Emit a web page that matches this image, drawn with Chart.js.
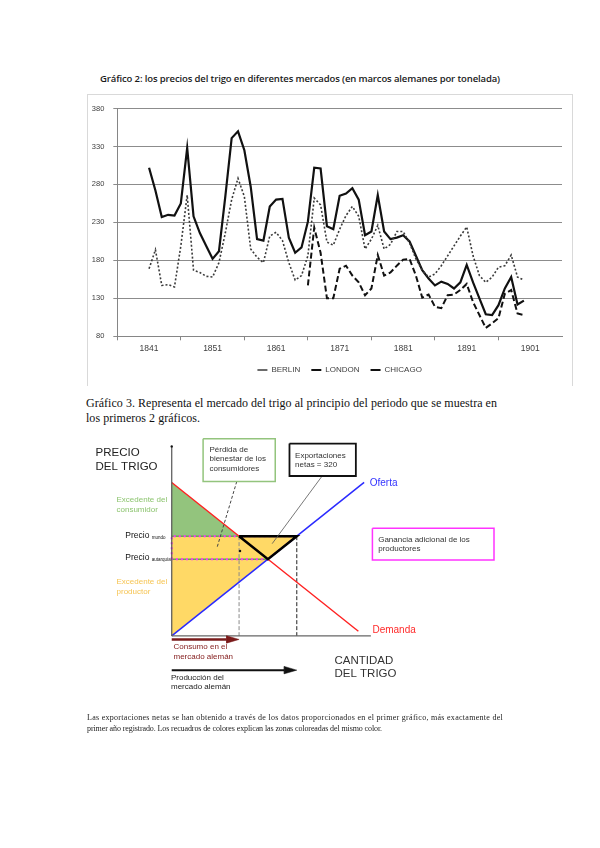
<!DOCTYPE html>
<html>
<head>
<meta charset="utf-8">
<script src="https://cdn.jsdelivr.net/npm/chart.js"></script>
<style>
    body { margin: 0; background: #fff; }
    #page { position: relative; width: 600px; height: 848px; overflow: hidden; }
    .ln { position: absolute; white-space: nowrap; }
    .cap { font-family: "Open Sans"; font-weight: 600; font-size: 9.5px; line-height: 12px; color: #1a1a1a; }
    .ser { font-family: "Liberation Serif"; color: #111; }
    .nota { color: #222; will-change: transform; background: #fff; }
    #frame { position: absolute; left: 87px; top: 94px; width: 484px; height: 291px; border: 1px solid #d9d9d9; border-bottom: 0; }
    canvas { position: absolute; }
</style>
</head>
<body>
<div id="page">
    <div class="ln cap" style="left:100px; top:73px;" data-w="400">Gráfico 2: los precios del trigo en diferentes mercados (en marcos alemanes por tonelada)</div>
    <div id="frame"></div>
    <canvas id="precios" width="485" height="289" style="left:87px; top:95px;"></canvas>

    <div class="ln ser" id="g3a" style="left:86px; top:395px; font-size:12px; line-height:16px;" data-w="411">Gráfico 3. Representa el mercado del trigo al principio del periodo que se muestra en</div>
    <div class="ln ser" id="g3b" style="left:86px; top:410px; font-size:12px; line-height:16px;">los primeros 2 gráficos.</div>

    <canvas id="mercado" width="600" height="280" style="left:0; top:425px;"></canvas>

    <div class="ln ser nota" style="left:87px; top:712px; font-size:8px; line-height:11px;" data-w="416">Las exportaciones netas se han obtenido a través de los datos proporcionados en el primer gráfico, más exactamente del</div>
    <div class="ln ser nota" style="left:87px; top:723px; font-size:8px; line-height:11px;" data-w="295">primer año registrado. Los recuadros de colores explican las zonas coloreadas del mismo color.</div>
</div>

<script type="text/javascript">
    // ---- Gráfico 2: precios del trigo ----
    const anos = [1841, 1842, 1843, 1844, 1845, 1846, 1847, 1848, 1849, 1850,
                  1851, 1852, 1853, 1854, 1855, 1856, 1857, 1858, 1859, 1860,
                  1861, 1862, 1863, 1864, 1865, 1866, 1867, 1868, 1869, 1870,
                  1871, 1872, 1873, 1874, 1875, 1876, 1877, 1878, 1879, 1880,
                  1881, 1882, 1883, 1884, 1885, 1886, 1887, 1888, 1889, 1890,
                  1891, 1892, 1893, 1894, 1895, 1896, 1897, 1898, 1899, 1900];

    const berlin = [169, 194, 147, 148, 145, 199, 266, 167, 164, 159,
                    158, 177, 216, 260, 288, 264, 195, 184, 177, 212,
                    217, 206, 177, 154, 160, 186, 262, 253, 204, 200,
                    221, 239, 251, 238, 195, 208, 226, 195, 201, 218,
                    218, 203, 182, 167, 158, 162, 173, 186, 199, 212,
                    224, 186, 160, 151, 158, 171, 173, 187, 158, 154];

    const london = [302, 272, 237, 240, 239, 255, 328, 238, 216, 199,
                    182, 192, 264, 341, 350, 325, 277, 208, 206, 251,
                    260, 261, 210, 190, 197, 231, 302, 301, 225, 221,
                    265, 268, 275, 260, 213, 218, 266, 218, 208, 210,
                    213, 205, 186, 167, 156, 147, 152, 149, 143, 151,
                    174, 151, 130, 109, 108, 121, 143, 158, 122, 127];

    const chicago = [null, null, null, null, null, null, null, null, null, null,
                     null, null, null, null, null, null, null, null, null, null,
                     null, null, null, null, null, 147, 223, 190, 130, 130,
                     169, 173, 160, 151, 134, 143, 187, 160, 164, 173,
                     181, 182, 160, 131, 135, 119, 117, 134, 135, 141,
                     149, 125, 108, 91, 97, 104, 136, 141, 110, 108];

    const yTicks = [80, 380, 50];       // min, max, paso
    const xRango = [1836, 1906];

    function serie(vals) {
        return anos.map((a, i) => ({ x: a, y: vals[i] }));
    }

    const gris = '#404040';

    new Chart(document.getElementById('precios'), {
        type: 'line',
        data: {
            datasets: [
                { label: 'BERLIN', data: serie(berlin), borderColor: '#3a3a3a', borderWidth: 1.6, borderDash: [2, 2], pointRadius: 0, pointStyle: 'line' },
                { label: 'LONDON', data: serie(london), borderColor: '#111', borderWidth: 2.2, pointRadius: 0, pointStyle: 'line' },
                { label: 'CHICAGO', data: serie(chicago), borderColor: '#111', borderWidth: 2, borderDash: [6, 3], pointRadius: 0, pointStyle: 'line' }
            ]
        },
        options: {
            responsive: false,
            animation: false,
            devicePixelRatio: 1,
            layout: { padding: { left: 0, right: 10, top: 10, bottom: 0 } },
            plugins: {
                legend: {
                    position: 'bottom',
                    fullSize: false,
                    labels: {
                        usePointStyle: true, pointStyleWidth: 10, boxHeight: 8, padding: 11,
                        color: gris, font: { family: 'Liberation Sans', size: 8 }
                    }
                },
                tooltip: { enabled: false }
            },
            scales: {
                x: {
                    type: 'linear', min: xRango[0], max: xRango[1],
                    ticks: {
                        stepSize: 5, autoSkip: false, maxRotation: 0, padding: 3,
                        color: gris, font: { family: 'Liberation Sans', size: 8.5 },
                        callback: v => ((v - 1841) % 10 === 0) ? String(v) : ''
                    },
                    grid: {
                        drawOnChartArea: false, tickLength: 4,
                        color: c => (c.tick && (c.tick.value - 1836) % 10 === 0 && c.tick.value < 1906) ? '#868686' : 'rgba(0,0,0,0)'
                    },
                    border: { color: '#868686' },
                    afterFit: s => { s.height = 18.7; }
                },
                y: {
                    min: yTicks[0], max: yTicks[1],
                    ticks: { stepSize: yTicks[2], padding: 9, color: gris, font: { family: 'Liberation Sans', size: 7.5 } },
                    grid: { color: '#8c8c8c', tickLength: 4 },
                    border: { color: '#868686' },
                    afterFit: s => { s.width = 30.3; }
                }
            }
        }
    });

    // ---- Gráfico 3: mercado del trigo ----
    const demandaQ = [0, 97];
    const demandaP = [100, 3];
    const ofertaQ = [0, 100];
    const ofertaP = [0, 100];
    const precioMundo = 65;

    const pendD = (demandaP[1] - demandaP[0]) / (demandaQ[1] - demandaQ[0]);
    const pendO = (ofertaP[1] - ofertaP[0]) / (ofertaQ[1] - ofertaQ[0]);
    const qDem = p => demandaQ[0] + (p - demandaP[0]) / pendD;
    const qOf = p => ofertaQ[0] + (p - ofertaP[0]) / pendO;
    const qEq = (ofertaP[0] - demandaP[0] + pendD * demandaQ[0] - pendO * ofertaQ[0]) / (pendD - pendO);
    const pEq = demandaP[0] + pendD * (qEq - demandaQ[0]);
    const pw = precioMundo;
    const qd = qDem(pw);
    const qs = qOf(pw);

    // escala de dibujo (px por unidad) y origen en el lienzo
    const PXQ = 1.95, PXP = 1.58, OX = 170, OY = 213, W2 = 600, H2 = 280;

    function poly(pts, o) {
        return Object.assign({
            data: pts.map(([x, y]) => ({ x: x, y: y })),
            pointRadius: 0, borderWidth: 0, borderColor: 'rgba(0,0,0,0)', fill: false, tension: 0
        }, o);
    }
    function caja(q0, p0, q1, p1, color, w) {
        return poly([[q0, p0], [q1, p0], [q1, p1], [q0, p1], [q0, p0]],
            { fill: 'shape', backgroundColor: '#fff', borderColor: color, borderWidth: w });
    }
    function flecha(q1, p, color, w) {
        const largo = 6.5, media = 2.4;
        return [
            poly([[0, p], [q1 - largo, p]], { borderColor: color, borderWidth: w }),
            poly([[q1, p], [q1 - largo, p + media], [q1 - largo, p - media], [q1, p]],
                { fill: 'shape', backgroundColor: color, borderColor: color, borderWidth: 0.5 })
        ];
    }

    const capas = [
        poly([[0, pw], [qs, pw], [0, 0], [0, pw]], { fill: 'shape', backgroundColor: '#ffd966' }),
        poly([[0, demandaP[0]], [qd, pw], [0, pw], [0, demandaP[0]]], { fill: 'shape', backgroundColor: '#93c47d' }),
        poly([[0, pw], [qd, pw]], { borderColor: '#6aa84f', borderWidth: 1.5 }),
        poly([[0, pEq], [qEq, pEq]], { borderColor: '#6aa84f', borderWidth: 1.5 }),
        poly([[0, pEq], [0, pw], [qs, pw], [qEq, pEq], [0, pEq]], { borderColor: '#ff33ff', borderWidth: 2, borderDash: [2, 3] }),
        poly([[qd, pw], [qd, 0]], { borderColor: '#8a8a8a', borderWidth: 1, borderDash: [4, 2] }),
        poly([[qs, pw], [qs, 0]], { borderColor: '#222', borderWidth: 1, borderDash: [4, 2] }),
        poly([[demandaQ[0], demandaP[0]], [demandaQ[1], demandaP[1]]], { borderColor: '#ff2020', borderWidth: 1.4 }),
        poly([[ofertaQ[0], ofertaP[0]], [ofertaQ[1], ofertaP[1]]], { borderColor: '#2a2aff', borderWidth: 1.5 }),
        poly([[qd, pw], [qs, pw], [qEq, pEq], [qd, pw]], { borderColor: '#000', borderWidth: 2.5 }),
        poly([[0, 0], [0, 123]], { borderColor: '#555', borderWidth: 1.2 }),
        poly([[0, 0], [103.5, 0]], { borderColor: '#666', borderWidth: 1.2 }),
        ...flecha(qd, -2.3, '#7a1b1b', 2.5),
        ...flecha(qs, -22.3, '#111', 2),
        poly([[33.8, 100.6], [23.6, 57.8]], { borderColor: '#444', borderWidth: 1, borderDash: [3, 2] }),
        poly([[78.3, 104.4], [52.2, 60.1]], { borderColor: '#555', borderWidth: 0.8 }),
        poly([[35.5, 55.3], [0, 123.4]], { showLine: false, pointRadius: 1.2, pointBackgroundColor: '#111', pointBorderWidth: 0 }),
        caja(16.3, 128.5, 53.8, 100.6, '#93c47d', 1.5),
        caja(61.2, 125.3, 95.7, 104.2, '#111', 1.8),
        caja(104.3, 70.1, 167.5, 49.4, '#ff33ff', 1.5)
    ];
    capas.forEach((d, i) => { d.order = capas.length - i; });

    const textos = [
        { t: 'PRECIO', q: -39.6, p: 119.3, c: '#222', s: 11.5 },
        { t: 'DEL TRIGO', q: -39.6, p: 110.4, c: '#222', s: 11.5 },
        { t: 'Excedente del', q: -28.7, p: 88.6, c: '#8cc46f', s: 8 },
        { t: 'consumidor', q: -28.7, p: 82.3, c: '#8cc46f', s: 8 },
        { t: 'Precio', q: -24.1, p: 65.3, c: '#111', s: 8.5, sub: 'mundo' },
        { t: 'Precio', q: -24.1, p: 50.8, c: '#111', s: 8.5, sub: 'autarquía' },
        { t: 'Excedente del', q: -28.7, p: 35, c: '#f6c452', s: 8 },
        { t: 'productor', q: -28.7, p: 28.7, c: '#f6c452', s: 8 },
        { t: 'Oferta', q: 102.9, p: 99.7, c: '#3434ff', s: 10 },
        { t: 'Demanda', q: 104.3, p: 3.6, c: '#ff2a2a', s: 10 },
        { t: 'Consumo en el', q: 0.9, p: -7, c: '#862121', s: 8 },
        { t: 'mercado alemán', q: 0.9, p: -13.3, c: '#862121', s: 8 },
        { t: 'Producción del', q: -0.4, p: -27, c: '#222', s: 8 },
        { t: 'mercado alemán', q: -0.4, p: -33.4, c: '#222', s: 8 },
        { t: 'CANTIDAD', q: 84.6, p: -16, c: '#333', s: 11.5 },
        { t: 'DEL TRIGO', q: 84.6, p: -24.9, c: '#333', s: 11.5 },
        { t: 'Pérdida de', q: 19.6, p: 121.5, c: '#333', s: 8 },
        { t: 'bienestar de los', q: 19.6, p: 115.2, c: '#333', s: 8 },
        { t: 'consumidores', q: 19.6, p: 108.9, c: '#333', s: 8 },
        { t: 'Exportaciones', q: 64.1, p: 117.3, c: '#333', s: 8 },
        { t: 'netas = 320', q: 64.1, p: 111.2, c: '#333', s: 8 },
        { t: 'Ganancia adicional de los', q: 107.3, p: 62.8, c: '#333', s: 8 },
        { t: 'productores', q: 107.3, p: 56.5, c: '#333', s: 8 }
    ];

    const rotulos = {
        id: 'rotulos',
        afterDatasetsDraw(chart) {
            const ctx = chart.ctx;
            const sx = chart.scales.x, sy = chart.scales.y;
            ctx.save();
            ctx.textAlign = 'left';
            ctx.textBaseline = 'middle';
            textos.forEach(o => {
                const px = sx.getPixelForValue(o.q), py = sy.getPixelForValue(o.p);
                ctx.font = o.s + 'px "Liberation Sans"';
                ctx.fillStyle = o.c;
                ctx.fillText(o.t, px, py);
                if (o.sub) {
                    const w = ctx.measureText(o.t + ' ').width;
                    ctx.font = '4.5px "Liberation Sans"';
                    ctx.fillText(o.sub, px + w, py + 2);
                }
            });
            ctx.restore();
        }
    };

    new Chart(document.getElementById('mercado'), {
        type: 'line',
        data: { datasets: capas },
        plugins: [rotulos],
        options: {
            responsive: false,
            animation: false,
            devicePixelRatio: 1,
            layout: { padding: 0 },
            plugins: { legend: { display: false }, tooltip: { enabled: false } },
            scales: {
                x: { type: 'linear', display: false, min: -OX / PXQ, max: (W2 - OX) / PXQ },
                y: { type: 'linear', display: false, min: -(H2 - OY) / PXP, max: OY / PXP }
            }
        }
    });

    // ajustar el ancho de las líneas de texto
    document.querySelectorAll('[data-w]').forEach(el => {
        const w = el.getBoundingClientRect().width;
        const n = el.textContent.length;
        el.style.letterSpacing = ((+el.dataset.w - w) / n) + 'px';
    });
    document.getElementById('g3b').style.letterSpacing = document.getElementById('g3a').style.letterSpacing;
</script>
</body>
</html>
